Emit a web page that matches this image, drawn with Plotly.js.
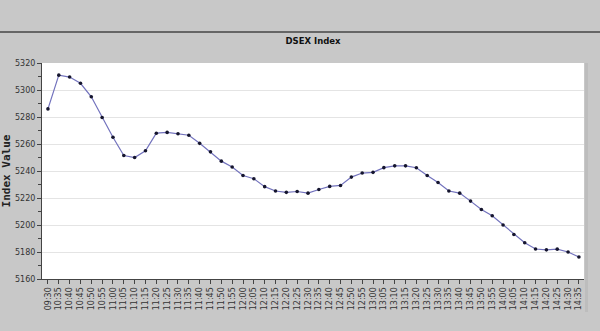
<!DOCTYPE html>
<html>
<head>
<meta charset="utf-8">
<script src="https://cdn.plot.ly/plotly-3.0.1.min.js"></script>
<style>
html,body{margin:0;padding:0;background:#c8c8c8;}
#chart{width:600px;height:331px;}
</style>
</head>
<body>
<div id="chart"></div>
<script>
const times = ["09:30","10:35","10:40","10:45","10:50","10:55","11:00","11:05","11:10","11:15",
  "11:20","11:25","11:30","11:35","11:40","11:45","11:50","11:55","12:00","12:05",
  "12:10","12:15","12:20","12:25","12:30","12:35","12:40","12:45","12:50","12:55",
  "13:00","13:05","13:10","13:15","13:20","13:25","13:30","13:35","13:40","13:45",
  "13:50","13:55","14:00","14:05","14:10","14:15","14:20","14:25","14:30","14:35"];
const indexValues = [5286,5311,5309.6,5305,5295,5279.6,5265,5251.5,5250,5255,
  5268,5268.6,5267.6,5266.5,5260.5,5254.2,5247.3,5243,5236.7,5234.3,
  5228.4,5225.2,5224.2,5224.8,5223.6,5226.3,5228.6,5229.3,5235.5,5238.5,
  5239,5242.5,5243.8,5243.8,5242.4,5236.7,5231.5,5225.2,5223.6,5217.7,
  5211.5,5206.8,5200,5193,5186.8,5182.2,5181.6,5182.1,5180,5176.3];
const chartTitle = "DSEX Index";
const yTitle = "Index Value";

const trace = {
  x: times,
  y: indexValues,
  type: 'scatter',
  mode: 'lines+markers',
  line: {color: '#7272bd', width: 1.2},
  marker: {color: '#15152e', size: 3.6, symbol: 'circle'},
  hoverinfo: 'x+y'
};

const layout = {
  width: 600, height: 331,
  margin: {l: 42, r: 16, t: 63, b: 52, pad: 0},
  paper_bgcolor: '#c8c8c8',
  plot_bgcolor: '#ffffff',
  showlegend: false,
  title: {text: '<b>' + chartTitle + '</b>', font: {family: 'DejaVu Sans', size: 8.5, color: '#111'},
          x: 0.5, xanchor: 'center', y: 1 - 41/331, yanchor: 'middle', xref: 'paper'},
  xaxis: {
    type: 'category',
    range: [-0.55, 49.47],
    showgrid: false,
    showline: true, linecolor: '#444', linewidth: 1,
    ticks: 'outside', ticklen: 4, tickcolor: '#444',
    tickangle: -90,
    tickfont: {family: 'DejaVu Sans', size: 8, color: '#333'},
    zeroline: false,
    fixedrange: true
  },
  yaxis: {
    range: [5160, 5320],
    dtick: 20, tick0: 5160,
    showgrid: true, gridcolor: '#e4e4e4', gridwidth: 1,
    showline: true, linecolor: '#444', linewidth: 1,
    ticks: 'outside', ticklen: 4, tickcolor: '#444',
    minor: {dtick: 10, ticks: 'outside', ticklen: 3, tickcolor: '#444', showgrid: false},
    tickfont: {family: 'DejaVu Sans', size: 8, color: '#333'},
    title: {text: '<b>' + yTitle + '</b>', font: {family: 'DejaVu Sans Mono', size: 11, color: '#222'}, standoff: 3},
    zeroline: false,
    fixedrange: true
  },
  shapes: [
    {type: 'line', xref: 'paper', yref: 'paper',
     x0: -42/542, x1: 558/542, y0: 1 + (63-32)/216, y1: 1 + (63-32)/216,
     line: {color: '#666666', width: 2}},
    {type: 'rect', xref: 'paper', yref: 'paper',
     x0: 1 + 1/542, x1: 1 + 4/542, y0: -33/216, y1: 1,
     line: {width: 0}, fillcolor: '#bdbdbd', layer: 'below'}
  ]
};

Plotly.newPlot('chart', [trace], layout, {displayModeBar: false, staticPlot: true});
</script>
</body>
</html>
